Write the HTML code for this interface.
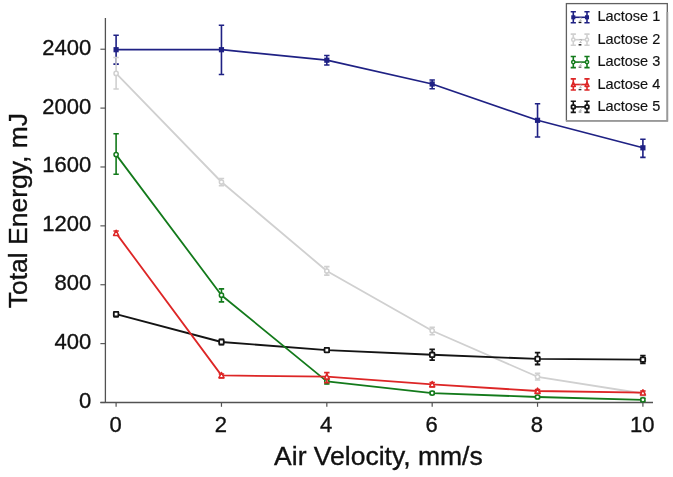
<!DOCTYPE html><html><head><meta charset="utf-8"><style>html,body{margin:0;padding:0;background:#fff;}svg{display:block;}text{font-family:"Liberation Sans",Arial,sans-serif;fill:#111;stroke:#111;stroke-width:0.35px;}</style></head><body>
<svg width="673" height="477" viewBox="0 0 673 477">
<rect width="673" height="477" fill="#fff"/>
<path d="M105.4,17.9 V403.1 M100.4,402.5 H653" stroke="#525252" stroke-width="1.3" fill="none"/>
<path d="M100.4,402.50 H105" stroke="#525252" stroke-width="1.15"/>
<text x="91.3" y="407.90" font-size="22" text-anchor="end">0</text>
<path d="M100.4,343.62 H105" stroke="#525252" stroke-width="1.15"/>
<text x="91.3" y="349.02" font-size="22" text-anchor="end">400</text>
<path d="M100.4,284.74 H105" stroke="#525252" stroke-width="1.15"/>
<text x="91.3" y="290.14" font-size="22" text-anchor="end">800</text>
<path d="M100.4,225.86 H105" stroke="#525252" stroke-width="1.15"/>
<text x="91.3" y="231.26" font-size="22" text-anchor="end">1200</text>
<path d="M100.4,166.98 H105" stroke="#525252" stroke-width="1.15"/>
<text x="91.3" y="172.38" font-size="22" text-anchor="end">1600</text>
<path d="M100.4,108.10 H105" stroke="#525252" stroke-width="1.15"/>
<text x="91.3" y="113.50" font-size="22" text-anchor="end">2000</text>
<path d="M100.4,49.22 H105" stroke="#525252" stroke-width="1.15"/>
<text x="91.3" y="54.62" font-size="22" text-anchor="end">2400</text>
<path d="M116.10,402 V406.8" stroke="#525252" stroke-width="1.2"/>
<text x="115.50" y="431.7" font-size="22" text-anchor="middle">0</text>
<path d="M221.46,402 V406.8" stroke="#525252" stroke-width="1.2"/>
<text x="220.86" y="431.7" font-size="22" text-anchor="middle">2</text>
<path d="M326.82,402 V406.8" stroke="#525252" stroke-width="1.2"/>
<text x="326.22" y="431.7" font-size="22" text-anchor="middle">4</text>
<path d="M432.18,402 V406.8" stroke="#525252" stroke-width="1.2"/>
<text x="431.58" y="431.7" font-size="22" text-anchor="middle">6</text>
<path d="M537.54,402 V406.8" stroke="#525252" stroke-width="1.2"/>
<text x="536.94" y="431.7" font-size="22" text-anchor="middle">8</text>
<path d="M642.90,402 V406.8" stroke="#525252" stroke-width="1.2"/>
<text x="642.30" y="431.7" font-size="22" text-anchor="middle">10</text>
<text x="378.4" y="464.7" font-size="26.5" text-anchor="middle">Air Velocity, mm/s</text>
<text transform="translate(26.8,210.6) rotate(-90)" x="0" y="0" font-size="26.5" text-anchor="middle">Total Energy, mJ</text>
<path d="M116.10,49.70 L221.46,49.70 L326.82,60.20 L432.18,84.00 L537.54,120.30 L642.90,147.80" stroke="#1f2184" stroke-width="1.7" fill="none" stroke-linejoin="round"/>
<path d="M116.10,35.20 V64.10 M113.40,35.20 H118.80 M113.40,64.10 H118.80" stroke="#1f2184" stroke-width="1.60" fill="none"/>
<path d="M221.46,25.20 V74.50 M218.76,25.20 H224.16 M218.76,74.50 H224.16" stroke="#1f2184" stroke-width="1.60" fill="none"/>
<path d="M326.82,55.50 V65.00 M324.12,55.50 H329.52 M324.12,65.00 H329.52" stroke="#1f2184" stroke-width="1.60" fill="none"/>
<path d="M432.18,80.00 V88.70 M429.48,80.00 H434.88 M429.48,88.70 H434.88" stroke="#1f2184" stroke-width="1.60" fill="none"/>
<path d="M537.54,103.80 V137.00 M534.84,103.80 H540.24 M534.84,137.00 H540.24" stroke="#1f2184" stroke-width="1.60" fill="none"/>
<path d="M642.90,139.20 V157.40 M640.20,139.20 H645.60 M640.20,157.40 H645.60" stroke="#1f2184" stroke-width="1.60" fill="none"/>
<rect x="113.50" y="47.10" width="5.20" height="5.20" fill="#1f2184"/>
<rect x="218.86" y="47.10" width="5.20" height="5.20" fill="#1f2184"/>
<rect x="324.22" y="57.60" width="5.20" height="5.20" fill="#1f2184"/>
<rect x="429.58" y="81.40" width="5.20" height="5.20" fill="#1f2184"/>
<rect x="534.94" y="117.70" width="5.20" height="5.20" fill="#1f2184"/>
<rect x="640.30" y="145.20" width="5.20" height="5.20" fill="#1f2184"/>
<path d="M116.10,73.40 L221.46,182.00 L326.82,271.00 L432.18,330.70 L537.54,376.80 L642.90,393.50" stroke="#d0d0d0" stroke-width="1.8" fill="none" stroke-linejoin="round"/>
<path d="M116.10,57.50 V89.00 M113.40,57.50 H118.80 M113.40,89.00 H118.80" stroke="#d0d0d0" stroke-width="1.60" fill="none"/>
<path d="M221.46,178.50 V185.80 M218.76,178.50 H224.16 M218.76,185.80 H224.16" stroke="#d0d0d0" stroke-width="1.60" fill="none"/>
<path d="M326.82,266.60 V275.10 M324.12,266.60 H329.52 M324.12,275.10 H329.52" stroke="#d0d0d0" stroke-width="1.60" fill="none"/>
<path d="M432.18,327.30 V334.80 M429.48,327.30 H434.88 M429.48,334.80 H434.88" stroke="#d0d0d0" stroke-width="1.60" fill="none"/>
<path d="M537.54,373.40 V380.00 M534.84,373.40 H540.24 M534.84,380.00 H540.24" stroke="#d0d0d0" stroke-width="1.60" fill="none"/>
<path d="M642.90,391.00 V396.00 M640.20,391.00 H645.60 M640.20,396.00 H645.60" stroke="#d0d0d0" stroke-width="1.60" fill="none"/>
<circle cx="116.10" cy="73.40" r="2.10" fill="#fff" stroke="#d0d0d0" stroke-width="1.5"/>
<circle cx="221.46" cy="182.00" r="2.10" fill="#fff" stroke="#d0d0d0" stroke-width="1.5"/>
<circle cx="326.82" cy="271.00" r="2.10" fill="#fff" stroke="#d0d0d0" stroke-width="1.5"/>
<circle cx="432.18" cy="330.70" r="2.10" fill="#fff" stroke="#d0d0d0" stroke-width="1.5"/>
<circle cx="537.54" cy="376.80" r="2.10" fill="#fff" stroke="#d0d0d0" stroke-width="1.5"/>
<circle cx="642.90" cy="393.50" r="2.10" fill="#fff" stroke="#d0d0d0" stroke-width="1.5"/>
<path d="M116.10,314.20 L221.46,342.00 L326.82,350.10 L432.18,354.80 L537.54,358.90 L642.90,359.60" stroke="#141414" stroke-width="1.9" fill="none" stroke-linejoin="round"/>
<path d="M116.10,312.00 V316.50 M113.40,312.00 H118.80 M113.40,316.50 H118.80" stroke="#141414" stroke-width="1.80" fill="none"/>
<path d="M221.46,339.50 V344.50 M218.76,339.50 H224.16 M218.76,344.50 H224.16" stroke="#141414" stroke-width="1.80" fill="none"/>
<path d="M326.82,348.00 V352.00 M324.12,348.00 H329.52 M324.12,352.00 H329.52" stroke="#141414" stroke-width="1.80" fill="none"/>
<path d="M432.18,349.40 V360.10 M429.48,349.40 H434.88 M429.48,360.10 H434.88" stroke="#141414" stroke-width="1.80" fill="none"/>
<path d="M537.54,352.70 V364.50 M534.84,352.70 H540.24 M534.84,364.50 H540.24" stroke="#141414" stroke-width="1.80" fill="none"/>
<path d="M642.90,355.60 V363.40 M640.20,355.60 H645.60 M640.20,363.40 H645.60" stroke="#141414" stroke-width="1.80" fill="none"/>
<rect x="113.80" y="311.90" width="4.60" height="4.60" rx="0.7" fill="#fff" stroke="#141414" stroke-width="1.8"/>
<rect x="219.16" y="339.70" width="4.60" height="4.60" rx="0.7" fill="#fff" stroke="#141414" stroke-width="1.8"/>
<rect x="324.52" y="347.80" width="4.60" height="4.60" rx="0.7" fill="#fff" stroke="#141414" stroke-width="1.8"/>
<rect x="429.88" y="352.50" width="4.60" height="4.60" rx="0.7" fill="#fff" stroke="#141414" stroke-width="1.8"/>
<rect x="535.24" y="356.60" width="4.60" height="4.60" rx="0.7" fill="#fff" stroke="#141414" stroke-width="1.8"/>
<rect x="640.60" y="357.30" width="4.60" height="4.60" rx="0.7" fill="#fff" stroke="#141414" stroke-width="1.8"/>
<path d="M116.10,154.60 L221.46,295.20 L326.82,381.40 L432.18,393.10 L537.54,397.00 L642.90,399.80" stroke="#137a1b" stroke-width="1.8" fill="none" stroke-linejoin="round"/>
<path d="M116.10,133.80 V174.30 M113.40,133.80 H118.80 M113.40,174.30 H118.80" stroke="#137a1b" stroke-width="1.60" fill="none"/>
<path d="M221.46,288.90 V301.90 M218.76,288.90 H224.16 M218.76,301.90 H224.16" stroke="#137a1b" stroke-width="1.60" fill="none"/>
<path d="M326.82,379.00 V384.00 M324.12,379.00 H329.52 M324.12,384.00 H329.52" stroke="#137a1b" stroke-width="1.60" fill="none"/>
<path d="M432.18,391.50 V394.50 M429.48,391.50 H434.88 M429.48,394.50 H434.88" stroke="#137a1b" stroke-width="1.60" fill="none"/>
<path d="M537.54,395.50 V398.50 M534.84,395.50 H540.24 M534.84,398.50 H540.24" stroke="#137a1b" stroke-width="1.60" fill="none"/>
<path d="M642.90,398.30 V401.30 M640.20,398.30 H645.60 M640.20,401.30 H645.60" stroke="#137a1b" stroke-width="1.60" fill="none"/>
<circle cx="116.10" cy="154.60" r="2.10" fill="#fff" stroke="#137a1b" stroke-width="1.5"/>
<circle cx="221.46" cy="295.20" r="2.10" fill="#fff" stroke="#137a1b" stroke-width="1.5"/>
<circle cx="326.82" cy="381.40" r="2.10" fill="#fff" stroke="#137a1b" stroke-width="1.5"/>
<circle cx="432.18" cy="393.10" r="2.10" fill="#fff" stroke="#137a1b" stroke-width="1.5"/>
<circle cx="537.54" cy="397.00" r="2.10" fill="#fff" stroke="#137a1b" stroke-width="1.5"/>
<circle cx="642.90" cy="399.80" r="2.10" fill="#fff" stroke="#137a1b" stroke-width="1.5"/>
<path d="M116.10,233.10 L221.46,375.40 L326.82,376.70 L432.18,384.40 L537.54,391.00 L642.90,392.60" stroke="#dd2626" stroke-width="1.8" fill="none" stroke-linejoin="round"/>
<path d="M116.10,231.00 V235.00 M113.40,231.00 H118.80 M113.40,235.00 H118.80" stroke="#dd2626" stroke-width="1.60" fill="none"/>
<path d="M221.46,374.00 V378.00 M218.76,374.00 H224.16 M218.76,378.00 H224.16" stroke="#dd2626" stroke-width="1.60" fill="none"/>
<path d="M326.82,372.60 V382.60 M324.12,372.60 H329.52 M324.12,382.60 H329.52" stroke="#dd2626" stroke-width="1.60" fill="none"/>
<path d="M432.18,382.50 V387.00 M429.48,382.50 H434.88 M429.48,387.00 H434.88" stroke="#dd2626" stroke-width="1.60" fill="none"/>
<path d="M537.54,389.50 V393.00 M534.84,389.50 H540.24 M534.84,393.00 H540.24" stroke="#dd2626" stroke-width="1.60" fill="none"/>
<path d="M642.90,391.00 V394.50 M640.20,391.00 H645.60 M640.20,394.50 H645.60" stroke="#dd2626" stroke-width="1.60" fill="none"/>
<path d="M116.10,230.22 L118.60,235.47 L113.60,235.47 Z" fill="#fff" stroke="#dd2626" stroke-width="1.6" stroke-linejoin="round"/>
<path d="M221.46,372.52 L223.96,377.77 L218.96,377.77 Z" fill="#fff" stroke="#dd2626" stroke-width="1.6" stroke-linejoin="round"/>
<path d="M326.82,373.82 L329.32,379.07 L324.32,379.07 Z" fill="#fff" stroke="#dd2626" stroke-width="1.6" stroke-linejoin="round"/>
<path d="M432.18,381.52 L434.68,386.77 L429.68,386.77 Z" fill="#fff" stroke="#dd2626" stroke-width="1.6" stroke-linejoin="round"/>
<path d="M537.54,388.12 L540.04,393.38 L535.04,393.38 Z" fill="#fff" stroke="#dd2626" stroke-width="1.6" stroke-linejoin="round"/>
<path d="M642.90,389.73 L645.40,394.98 L640.40,394.98 Z" fill="#fff" stroke="#dd2626" stroke-width="1.6" stroke-linejoin="round"/>
<rect x="566.4" y="3.6" width="100.9" height="117.1" fill="#fff" stroke="#606060" stroke-width="1.3"/>
<path d="M566,120.8 H668.1 M667.4,12 V121.5" stroke="#999" stroke-width="1.7" fill="none"/>
<path d="M573.3,17.30 H587.0" stroke="#1f2184" stroke-width="1.6"/>
<path d="M573.30,11.70 V22.80 M570.70,11.70 H575.90 M570.70,22.80 H575.90" stroke="#1f2184" stroke-width="1.60" fill="none"/>
<path d="M587.00,11.70 V22.80 M584.40,11.70 H589.60 M584.40,22.80 H589.60" stroke="#1f2184" stroke-width="1.60" fill="none"/>
<rect x="571.27" y="15.27" width="4.06" height="4.06" fill="#1f2184"/>
<rect x="584.97" y="15.27" width="4.06" height="4.06" fill="#1f2184"/>
<text x="579.2" y="20.90" font-size="5" style="fill:#999;stroke:none">2</text>
<rect x="578.6" y="21.70" width="2.8" height="1.4" fill="#111"/>
<text x="597.4" y="21.40" font-size="14.5" style="stroke-width:0.15px">Lactose 1</text>
<path d="M573.3,39.70 H587.0" stroke="#d0d0d0" stroke-width="1.6"/>
<path d="M573.30,34.10 V45.20 M570.70,34.10 H575.90 M570.70,45.20 H575.90" stroke="#d0d0d0" stroke-width="1.60" fill="none"/>
<path d="M587.00,34.10 V45.20 M584.40,34.10 H589.60 M584.40,45.20 H589.60" stroke="#d0d0d0" stroke-width="1.60" fill="none"/>
<circle cx="573.30" cy="39.70" r="1.64" fill="#fff" stroke="#d0d0d0" stroke-width="1.5"/>
<circle cx="587.00" cy="39.70" r="1.64" fill="#fff" stroke="#d0d0d0" stroke-width="1.5"/>
<text x="579.2" y="43.30" font-size="5" style="fill:#999;stroke:none">2</text>
<rect x="578.6" y="44.10" width="2.8" height="1.4" fill="#222"/>
<text x="597.4" y="43.85" font-size="14.5" style="stroke-width:0.15px">Lactose 2</text>
<path d="M573.3,62.10 H587.0" stroke="#137a1b" stroke-width="1.6"/>
<path d="M573.30,56.50 V67.60 M570.70,56.50 H575.90 M570.70,67.60 H575.90" stroke="#137a1b" stroke-width="1.60" fill="none"/>
<path d="M587.00,56.50 V67.60 M584.40,56.50 H589.60 M584.40,67.60 H589.60" stroke="#137a1b" stroke-width="1.60" fill="none"/>
<circle cx="573.30" cy="62.10" r="1.64" fill="#fff" stroke="#137a1b" stroke-width="1.5"/>
<circle cx="587.00" cy="62.10" r="1.64" fill="#fff" stroke="#137a1b" stroke-width="1.5"/>
<text x="579.2" y="65.70" font-size="5" style="fill:#999;stroke:none">2</text>
<rect x="578.6" y="66.50" width="2.8" height="1.4" fill="#666"/>
<text x="597.4" y="66.30" font-size="14.5" style="stroke-width:0.15px">Lactose 3</text>
<path d="M573.3,84.50 H587.0" stroke="#dd2626" stroke-width="1.6"/>
<path d="M573.30,78.90 V90.00 M570.70,78.90 H575.90 M570.70,90.00 H575.90" stroke="#dd2626" stroke-width="1.60" fill="none"/>
<path d="M587.00,78.90 V90.00 M584.40,78.90 H589.60 M584.40,90.00 H589.60" stroke="#dd2626" stroke-width="1.60" fill="none"/>
<path d="M573.30,82.26 L575.25,86.35 L571.35,86.35 Z" fill="#fff" stroke="#dd2626" stroke-width="1.6" stroke-linejoin="round"/>
<path d="M587.00,82.26 L588.95,86.35 L585.05,86.35 Z" fill="#fff" stroke="#dd2626" stroke-width="1.6" stroke-linejoin="round"/>
<text x="579.2" y="88.10" font-size="5" style="fill:#999;stroke:none">2</text>
<rect x="578.6" y="88.90" width="2.8" height="1.4" fill="#333"/>
<text x="597.4" y="88.75" font-size="14.5" style="stroke-width:0.15px">Lactose 4</text>
<path d="M573.3,106.90 H587.0" stroke="#141414" stroke-width="1.6"/>
<path d="M573.30,101.30 V112.40 M570.70,101.30 H575.90 M570.70,112.40 H575.90" stroke="#141414" stroke-width="1.60" fill="none"/>
<path d="M587.00,101.30 V112.40 M584.40,101.30 H589.60 M584.40,112.40 H589.60" stroke="#141414" stroke-width="1.60" fill="none"/>
<rect x="571.51" y="105.11" width="3.59" height="3.59" rx="0.7" fill="#fff" stroke="#141414" stroke-width="1.8"/>
<rect x="585.21" y="105.11" width="3.59" height="3.59" rx="0.7" fill="#fff" stroke="#141414" stroke-width="1.8"/>
<text x="579.2" y="110.50" font-size="5" style="fill:#999;stroke:none">2</text>
<rect x="578.6" y="111.30" width="2.8" height="1.4" fill="#999"/>
<text x="597.4" y="111.20" font-size="14.5" style="stroke-width:0.15px">Lactose 5</text>
</svg></body></html>
